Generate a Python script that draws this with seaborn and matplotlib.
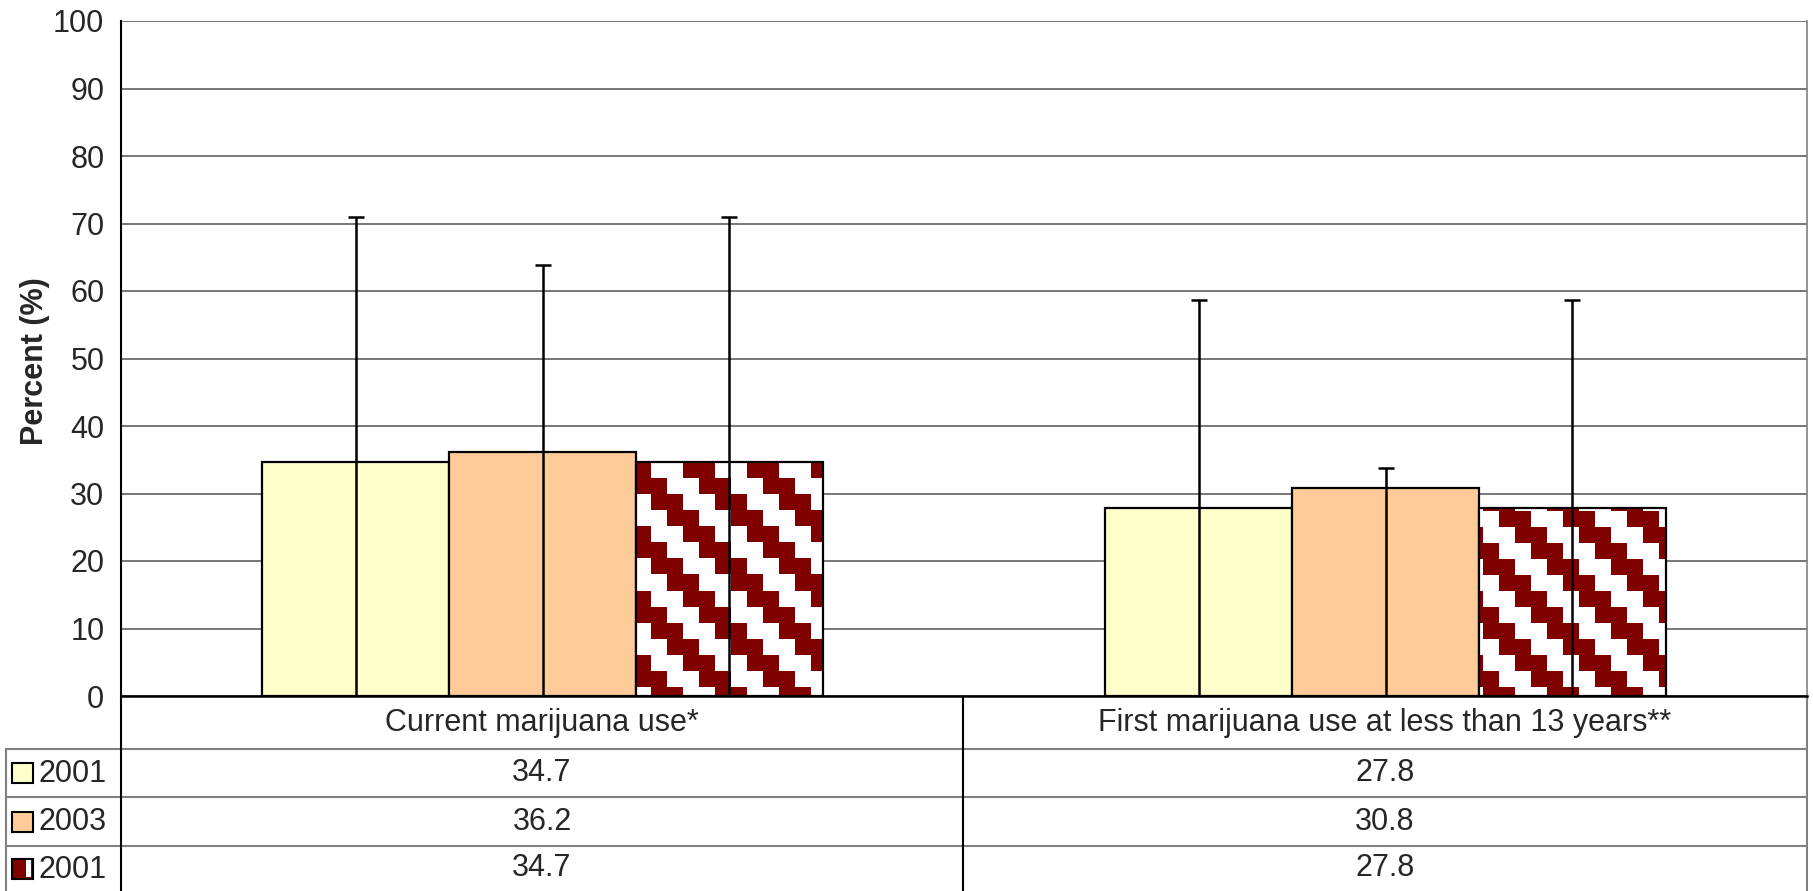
import numpy as np
import pandas as pd
import matplotlib
matplotlib.use("Agg")
import matplotlib.pyplot as plt
import seaborn as sns
from matplotlib.lines import Line2D
from matplotlib.patches import Rectangle

# ---------------- data ----------------
categories = ["Current marijuana use*", "First marijuana use at less than 13 years**"]
series_labels = ["2001", "2003", "2001"]
values_2001 = [34.7, 27.8]
values_2003 = [36.2, 30.8]
values_2001b = [34.7, 27.8]
upper_2001 = [70.9, 58.6]
upper_2003 = [63.9, 33.8]
upper_2001b = [70.9, 58.6]
yticks = list(range(0, 101, 10))

series_keys = ["s1", "s2", "s3"]
series_values = [values_2001, values_2003, values_2001b]
series_upper = [upper_2001, upper_2003, upper_2001b]

# ---------------- style ----------------
sns.set_theme(style="white")
plt.rcParams['font.family'] = ['Liberation Sans', 'DejaVu Sans']

W, H = 1813, 891
FS = 22
fig = plt.figure(figsize=(W / 100, H / 100), dpi=100)
fig.patch.set_facecolor("white")

# table axes in pixel coordinates (layout only)
tax = fig.add_axes([0, 0, 1, 1])
tax.set_xlim(0, W)
tax.set_ylim(H, 0)
tax.axis("off")

ax = fig.add_axes([121 / W, 1 - 696 / H, (1807 - 121) / W, (696 - 21) / H])

df = pd.DataFrame({
    "category": [c for _ in series_keys for c in categories],
    "series": [k for k in series_keys for _ in categories],
    "value": [v for vals in series_values for v in vals],
})
palette = {"s1": "#FFFFCC", "s2": "#FFCC99", "s3": "#FFFFFF"}
sns.barplot(data=df, x="category", y="value", hue="series",
            order=categories, hue_order=series_keys, palette=palette,
            width=0.665, gap=0, errorbar=None, edgecolor="black",
            linewidth=1.6, legend=False, saturation=1, ax=ax)

ax.set_xlim(-0.5, 1.5)
ax.set_ylim(0, 100)
ax.set_yticks(yticks)
ax.set_yticklabels([str(t) for t in yticks], fontsize=FS)
ax.set_xticks([])
ax.set_xlabel("")
ax.set_ylabel("")
ax.set_axisbelow(True)
ax.yaxis.grid(True, color="#606060", linewidth=1.2)
ax.tick_params(axis="y", direction="out", length=6, width=1, color="black", pad=6)
ax.spines["top"].set_visible(False)
ax.spines["right"].set_color("#808080")
ax.spines["right"].set_linewidth(1.2)
ax.spines["left"].set_color("black")
ax.spines["left"].set_linewidth(1.5)
ax.spines["bottom"].set_color("black")
ax.spines["bottom"].set_linewidth(1.8)
ax.set_autoscale_on(False)

# sort bars left-to-right: group-major, series-minor
bars = sorted([p for p in ax.patches if isinstance(p, Rectangle) and p.get_width() > 0],
              key=lambda p: p.get_x())
fig.canvas.draw()
dark = np.array([0x80, 0x00, 0x00]) / 255.0
for i, p in enumerate(bars):
    ci, si = i // 3, i % 3
    x0 = p.get_x()
    w = p.get_width()
    h = p.get_height()
    xc = x0 + w / 2
    up = series_upper[si][ci]
    ax.errorbar([xc], [h], yerr=[[h], [up - h]], fmt="none", ecolor="black",
                elinewidth=1.8, capsize=5.8, capthick=1.8, zorder=6)
    if si == 2:
        p.set_facecolor("none")
        p.set_zorder(3)
        (px0, py0), (px1, py1) = ax.transData.transform([(x0, 0), (x0 + w, h)])
        nx = max(int(round(px1 - px0)), 1)
        ny = max(int(round(py1 - py0)), 1)
        # page-anchored staircase pattern (pixel coordinates from top-left)
        X = np.round(px0) + np.arange(nx)
        Y = np.round(H - py1) + np.arange(ny)
        R = np.floor((Y - 15) / 16)[:, None]
        C = np.floor((X - 43) / 16)[None, :]
        mask = ((C - R) % 4) < 2
        img = np.ones((ny, nx, 3))
        img[mask] = dark
        im = ax.imshow(img, extent=(x0, x0 + w, 0, h), origin="upper",
                       aspect="auto", interpolation="nearest", zorder=2)
        im.set_clip_path(p)
    else:
        p.set_zorder(2)

ax.set_xlim(-0.5, 1.5)
ax.set_ylim(0, 100)

# y label
fig.text(35 / W, 1 - 361 / H, "Percent (%)", rotation=90, ha="center", va="center",
         fontsize=FS, fontweight="bold")

# ---------------- data table ----------------
gray = "#808080"
row_y = [696, 749, 797, 846, 891]
col_x = [6, 121, 963, 1807]
for y in row_y[1:4]:
    tax.add_line(Line2D([col_x[0], col_x[3]], [y, y], color=gray, lw=1.5))
tax.add_line(Line2D([col_x[0], col_x[0]], [row_y[1], H], color=gray, lw=1.5))
tax.add_line(Line2D([col_x[1], col_x[1]], [row_y[0], H], color="black", lw=1.5))
tax.add_line(Line2D([col_x[2], col_x[2]], [row_y[0], H], color="black", lw=1.5))
tax.add_line(Line2D([col_x[3], col_x[3]], [row_y[0], H], color=gray, lw=1.5))

col_centers = [(col_x[1] + col_x[2]) / 2, (col_x[2] + col_x[3]) / 2]
yc0 = (row_y[0] + row_y[1]) / 2
for cx, cat in zip(col_centers, categories):
    tax.text(cx, yc0, cat, ha="center", va="center", fontsize=FS)

for si in range(3):
    yc = (row_y[si + 1] + row_y[si + 2]) / 2
    for cx, v in zip(col_centers, series_values[si]):
        tax.text(cx, yc, f"{v:.1f}", ha="center", va="center", fontsize=FS)
    # legend key
    kx, kw, kh = 12, 21, 20
    if si < 2:
        tax.add_patch(Rectangle((kx, yc - kh / 2), kw, kh, facecolor=palette[series_keys[si]],
                                edgecolor="black", lw=1.5))
    else:
        tax.add_patch(Rectangle((kx, yc - kh / 2), kw, kh, facecolor="#800000",
                                edgecolor="black", lw=1.5))
        tax.add_patch(Rectangle((kx + 14, yc - kh / 2 + 1), 4.5, kh - 3, facecolor="white",
                                edgecolor="none"))
    tax.text(39, yc + 1, series_labels[si], ha="left", va="center", fontsize=FS)

fig.savefig("out.png", dpi=100, facecolor="white")
